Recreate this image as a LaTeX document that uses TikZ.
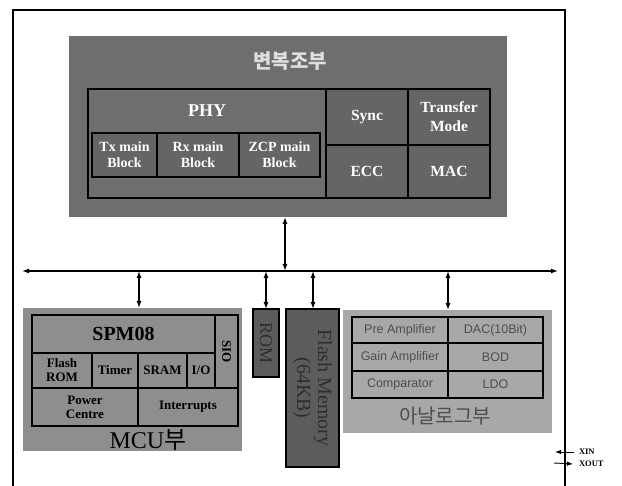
\documentclass[tikz,border=0pt]{standalone}
\usepackage{fontspec}
\setmainfont{Liberation Serif}
\newfontfamily\kfont{Noto Sans CJK KR}
\newfontfamily\asans{Liberation Sans}
\usetikzlibrary{arrows.meta}
\definecolor{modemfill}{HTML}{6E6E6E}
\definecolor{modemcell}{HTML}{656565}
\definecolor{mcufill}{HTML}{8E8E8E}
\definecolor{memfill}{HTML}{5C5C5C}
\definecolor{memtext}{HTML}{2E2E2E}
\definecolor{anafill}{HTML}{A8A8A8}
\definecolor{anatext}{HTML}{4E4E4E}
\newcommand\bx[7]{\node[#1, minimum width={(#5-#3)*1pt}, minimum height={(#6-#4)*1pt}] (#2) at ({(#3+#5)/2},{(#4+#6)/2}) {#7};}
\tikzset{
  base/.style={inner sep=0pt, outer sep=0pt, align=center},
  plate/.style={base, draw=none},
  mcell/.style={base, draw=black, line width=1.6pt, fill=modemcell, text=white, font=\bfseries\fontsize{14}{16}\selectfont},
  ccell/.style={base, draw=black, line width=1.3pt, fill=mcufill, text=black, font=\bfseries\fontsize{13}{14}\selectfont},
  acell/.style={base, draw=black, line width=1.3pt, fill=anafill, text=anatext, font=\asans\fontsize{12.5}{14}\selectfont},
  mem/.style={base, draw=black, line width=1.4pt, fill=memfill},
  dbl/.style={{Latex[length=7pt,width=5pt]}-{Latex[length=7pt,width=5pt]}, line width=1.3pt},
  sarrow/.style={-{Latex[length=6pt,width=4.5pt]}, line width=0.9pt},
  pinlabel/.style={base, anchor=west, font=\bfseries\fontsize{8.5}{9}\selectfont}
}
\begin{document}
\begin{tikzpicture}[x=1pt,y=-1pt]
\useasboundingbox (0,0) rectangle (622,486);
% outer frame
\draw[line width=1.5pt] (13,486) -- (13,10) -- (565,10) -- (565,486);

% modem block
\bx{plate, fill=modemfill}{modem}{69}{36}{507}{217}{}
\node[base, text=gray!25, font=\kfont\bfseries\fontsize{20}{22}\selectfont] (modemtitle) at (290,61) {변복조부};
\bx{mcell, fill=modemfill}{phy}{88}{89}{326}{198}{}
\node[base, text=white, font=\bfseries\fontsize{18}{20}\selectfont] (phytxt) at (207,111) {PHY};
\bx{mcell}{tx}{92}{133}{157}{177}{Tx main\\Block}
\bx{mcell}{rx}{157}{133}{239}{177}{Rx main\\Block}
\bx{mcell}{zcp}{239}{133}{320}{177}{ZCP main\\Block}
\bx{mcell, font=\bfseries\fontsize{15.5}{18}\selectfont}{sync}{326}{89}{408}{145}{Sync}
\bx{mcell, font=\bfseries\fontsize{15.5}{18}\selectfont}{ecc}{326}{145}{408}{198}{ECC}
\bx{mcell, font=\bfseries\fontsize{15.5}{19}\selectfont}{tm}{408}{89}{490}{145}{Transfer\\Mode}
\bx{mcell, font=\bfseries\fontsize{15.5}{18}\selectfont}{mac}{408}{145}{490}{198}{MAC}

% MCU block
\bx{plate, fill=mcufill}{mcu}{23}{308}{242}{451}{}
\bx{ccell, font=\bfseries\fontsize{20}{22}\selectfont}{spm}{32}{315}{215}{353}{SPM08}
\bx{ccell}{sio}{215}{315}{238}{388}{}
\node[base, rotate=-90, font=\bfseries\fontsize{13}{14}\selectfont] (siotxt) at (sio) {SIO};
\bx{ccell}{from}{32}{353}{92}{388}{Flash\\ROM}
\bx{ccell}{timer}{92}{353}{138}{388}{Timer}
\bx{ccell}{sram}{138}{353}{187}{388}{SRAM}
\bx{ccell}{io}{187}{353}{215}{388}{I/O}
\bx{ccell}{power}{32}{388}{138}{426}{Power\\Centre}
\bx{ccell}{intr}{138}{388}{238}{426}{Interrupts}
\node[base, font=\fontsize{24}{26}\selectfont, text=black] (mcutxt) at (148,440) {MCU{\kfont 부}};

% ROM and Flash memory
\bx{mem}{rom}{253}{309}{279}{377}{}
\node[base, rotate=-90, text=memtext, font=\fontsize{18}{19}\selectfont] (romtxt) at (rom) {ROM};
\bx{mem}{flash}{286}{309}{339}{467}{}
\node[base, rotate=-90, text=memtext, font=\fontsize{20}{21}\selectfont] (flashtxt) at (flash) {Flash Memory\\(64KB)};

% analog block
\bx{plate, fill=anafill}{ana}{343}{310}{552}{433}{}
\bx{acell}{pre}{352}{317}{448}{343}{Pre Amplifier}
\bx{acell}{dac}{448}{317}{543}{343}{DAC(10Bit)}
\bx{acell}{gain}{352}{343}{448}{371}{Gain Amplifier}
\bx{acell}{bod}{448}{343}{543}{371}{BOD}
\bx{acell}{comp}{352}{371}{448}{398}{Comparator}
\bx{acell}{ldo}{448}{371}{543}{398}{LDO}
\node[base, text=anatext, font=\kfont\fontsize{20}{22}\selectfont] (anatxt) at (445,416) {아날로그부};

% bus
\coordinate (busL) at (22,271);
\coordinate (busR) at (558,271);
\draw[dbl] (busL) -- (busR);
\coordinate (b0) at (285,271);
\coordinate (b1) at (139,271);
\coordinate (b2) at (266,271);
\coordinate (b3) at (313,271);
\coordinate (b4) at (448,271);
\draw[dbl] (b0 |- modem.south) -- (b0);
\draw[dbl] (b1) -- (b1 |- mcu.north);
\draw[dbl] (b2) -- (b2 |- rom.north);
\draw[dbl] (b3) -- (b3 |- flash.north);
\draw[dbl] (b4) -- (b4 |- ana.north);

% XIN / XOUT
\node[pinlabel] (xin) at (579,452) {XIN};
\node[pinlabel] (xout) at (579,464) {XOUT};
\coordinate (xinE) at (555,452);
\coordinate (xoutS) at (554,463);
\draw[sarrow] ([xshift=-5pt]xin.west) -- (xinE);
\draw[sarrow] (xoutS) -- ([xshift=-6pt]xout.west);
\end{tikzpicture}
\end{document}
